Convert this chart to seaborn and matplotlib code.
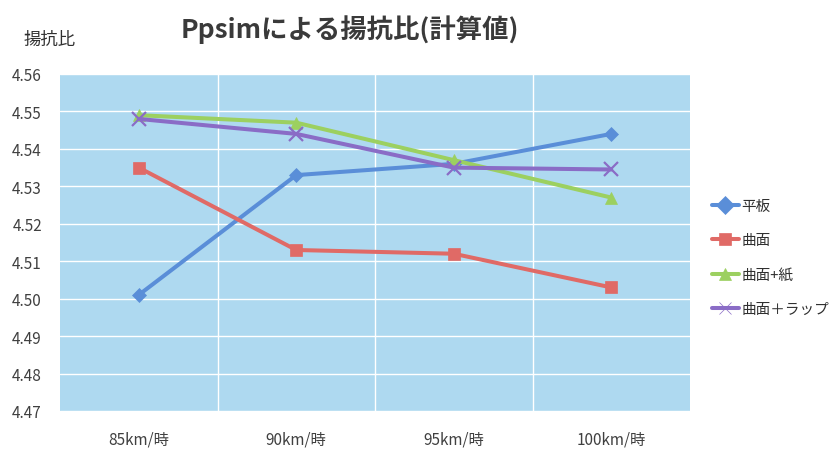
import matplotlib
matplotlib.use("Agg")
import matplotlib.pyplot as plt
import seaborn as sns
import pandas as pd
import numpy as np

# Data
speeds = ["85km/時", "90km/時", "95km/時", "100km/時"]
series_names = ["平板", "曲面", "曲面+紙", "曲面＋ラップ"]
flat = [4.501, 4.533, 4.536, 4.544]
curved = [4.535, 4.513, 4.512, 4.503]
curved_paper = [4.549, 4.547, 4.537, 4.527]
curved_wrap = [4.548, 4.544, 4.535, 4.5345]
y_ticks = [4.47, 4.48, 4.49, 4.50, 4.51, 4.52, 4.53, 4.54, 4.55, 4.56]

colors = ["#5A8ED8", "#E06A66", "#9CD060", "#8A6CC6"]
markers = ["D", "s", "^", "X"]

rows = []
for name, vals in zip(series_names, [flat, curved, curved_paper, curved_wrap]):
    for sp, v in zip(speeds, vals):
        rows.append({"速度": sp, "揚抗比": v, "系列": name})
df = pd.DataFrame(rows)

sns.set_theme(style="white")
plt.rcParams["font.family"] = ["Noto Sans CJK JP", "DejaVu Sans"]

fig = plt.figure(figsize=(8.4, 4.52), dpi=100)
ax = fig.add_axes([60 / 840, 1 - 412 / 452, 630 / 840, 337 / 452])
ax.set_facecolor("#AED9F0")

sns.lineplot(
    data=df, x="速度", y="揚抗比", hue="系列", style="系列",
    hue_order=series_names, style_order=series_names,
    palette=colors, markers=markers, dashes=False, linewidth=2.9,
    markersize=9, markeredgewidth=0.5, ax=ax, sort=False,
)

# marker tweaks: x-shaped marker for the wrap series
for line, m in zip(ax.lines, ["D", "s", "^", "x"]):
    line.set_marker(m)
    if m == "x":
        line.set_markeredgewidth(1.6)
        line.set_markersize(10)
    elif m == "D":
        line.set_markersize(7.5)
    line.set_markeredgecolor(line.get_color())

ax.set_xlim(-0.5, 3.5)
ax.set_ylim(4.47, 4.56)
ax.set_yticks(y_ticks)
ax.set_yticklabels([f"{v:.2f}" for v in y_ticks])
ax.set_xticks(range(len(speeds)))
ax.set_xticklabels(speeds)
ax.set_xticks([0.5, 1.5, 2.5], minor=True)
ax.grid(axis="y", which="major", color="white", linewidth=1.0)
ax.grid(axis="x", which="minor", color="white", linewidth=1.0)
ax.grid(axis="x", which="major", visible=False)
ax.tick_params(axis="both", which="both", length=0, labelsize=11, colors="#404040")
ax.tick_params(axis="x", pad=14)
ax.tick_params(axis="y", pad=13)
for s in ax.spines.values():
    s.set_visible(False)
ax.set_xlabel("")
ax.set_ylabel("")

handles, labels = ax.get_legend_handles_labels()
for h, m in zip(handles, ["D", "s", "^", "x"]):
    h.set_marker(m)
    h.set_markeredgecolor(h.get_color())
ax.legend(
    handles, labels, loc="center left", bbox_to_anchor=(1.025, 0.455),
    frameon=False, fontsize=10.5, handlelength=1.9, labelspacing=1.4,
    handletextpad=0.15, borderpad=0.2, borderaxespad=0.2, labelcolor="#303030",
)

fig.text(350 / 840, 1 - 30 / 452, "Ppsimによる揚抗比(計算値)", ha="center", va="center",
         fontsize=19, fontweight="bold", color="#3a3a3a")
fig.text(50 / 840, 1 - 40 / 452, "揚抗比", ha="center", va="center",
         fontsize=12.5, color="#303030")

fig.savefig("out.png", dpi=100, facecolor="white")
